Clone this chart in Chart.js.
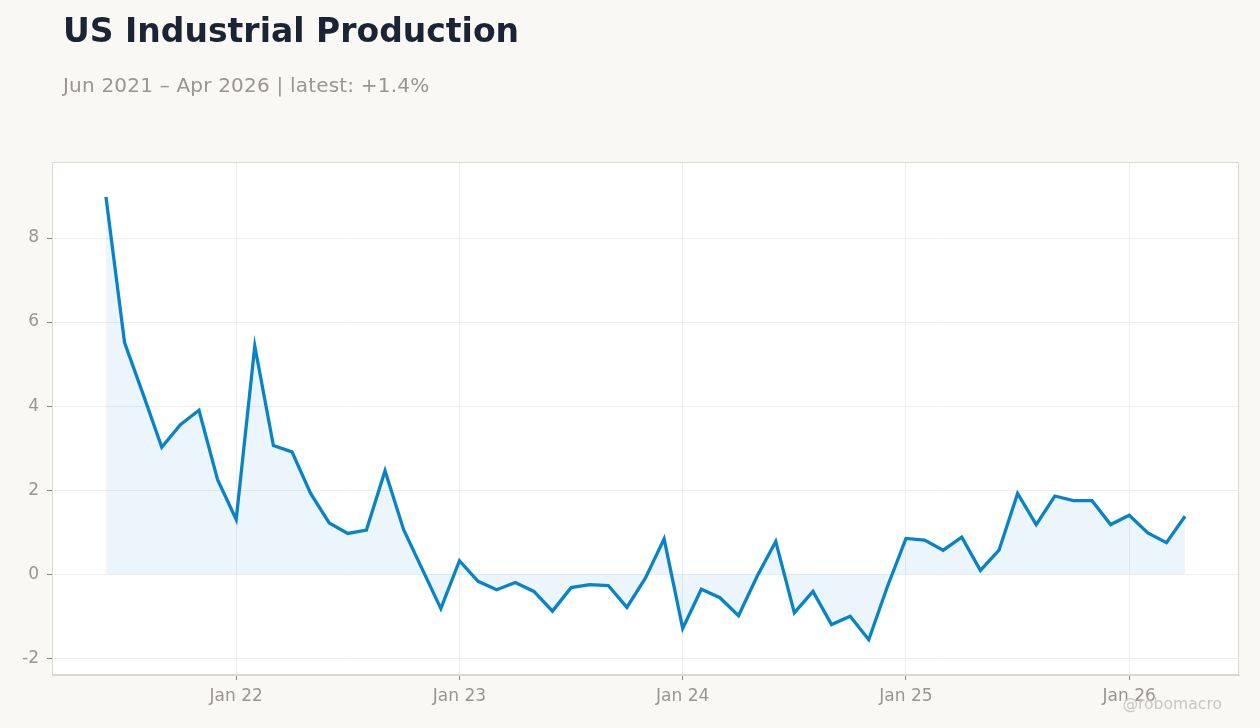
<!DOCTYPE html>
<html>
<head>
<meta charset="utf-8">
<script src="https://cdn.jsdelivr.net/npm/chart.js@4"></script>
<style>
  html, body { margin: 0; padding: 0; background: #f9f8f5; }
  body { width: 1260px; height: 728px; position: relative; overflow: hidden; font-family: "DejaVu Sans", sans-serif; }
  #title { position: absolute; left: 63px; top: 14px; font-size: 33px; line-height: 33px; font-weight: bold; color: #1b2434; white-space: nowrap; }
  #subtitle { position: absolute; left: 63px; top: 75px; font-size: 20px; line-height: 20px; letter-spacing: 0.2px; color: #9a9590; white-space: nowrap; }
  #credit { position: absolute; right: 38px; top: 697px; font-size: 15.6px; line-height: 15px; color: #cac6c0; white-space: nowrap; }
  #wrap { position: absolute; left: 0; top: 0; width: 1260px; height: 728px; }
</style>
</head>
<body>
<div id="wrap"><canvas id="chart"></canvas></div>
<div id="title">US Industrial Production</div>
<div id="subtitle">Jun 2021 – Apr 2026 | latest: +1.4%</div>
<div id="credit">@robomacro</div>
<script>
// monthly, Jun 2021 .. Apr 2026, year-over-year %
const months = [
  '2021-06','2021-07','2021-08','2021-09','2021-10','2021-11','2021-12',
  '2022-01','2022-02','2022-03','2022-04','2022-05','2022-06','2022-07','2022-08','2022-09','2022-10','2022-11','2022-12',
  '2023-01','2023-02','2023-03','2023-04','2023-05','2023-06','2023-07','2023-08','2023-09','2023-10','2023-11','2023-12',
  '2024-01','2024-02','2024-03','2024-04','2024-05','2024-06','2024-07','2024-08','2024-09','2024-10','2024-11','2024-12',
  '2025-01','2025-02','2025-03','2025-04','2025-05','2025-06','2025-07','2025-08','2025-09','2025-10','2025-11','2025-12',
  '2026-01','2026-02','2026-03','2026-04'
];
const values = [
  8.98, 5.51, 4.28, 3.02, 3.56, 3.90, 2.25,
  1.30, 5.43, 3.06, 2.91, 1.92, 1.22, 0.97, 1.05, 2.46, 1.06, 0.12, -0.82,
  0.32, -0.17, -0.37, -0.20, -0.41, -0.88, -0.32, -0.25, -0.27, -0.79, -0.09, 0.84,
  -1.29, -0.36, -0.56, -0.99, -0.05, 0.78, -0.92, -0.41, -1.20, -1.00, -1.56, -0.30,
  0.85, 0.81, 0.57, 0.88, 0.09, 0.57, 1.92, 1.18, 1.86, 1.75, 1.75, 1.18,
  1.40, 0.98, 0.75, 1.38
];
const yTicks = [-2, 0, 2, 4, 6, 8];
const xTickMonths = ['2022-01', '2023-01', '2024-01', '2025-01', '2026-01'];
const xTickLabels = ['Jan 22', 'Jan 23', 'Jan 24', 'Jan 25', 'Jan 26'];

const LINE = '#0884c6';
const GRID = '#eeeeee';
const TICK_TEXT = '#9a9590';

const points = values.map((v, i) => ({ x: i, y: v }));
const xTickIdx = xTickMonths.map(m => months.indexOf(m));
const pad = (months.length - 1) * 0.05;

// white plot area with a thin box round it
const plotBox = {
  id: 'plotBox',
  beforeDraw(chart) {
    const a = chart.chartArea, ctx = chart.ctx;
    ctx.save();
    ctx.fillStyle = '#ffffff';
    ctx.fillRect(a.left, a.top, a.right - a.left, a.bottom - a.top);
    ctx.restore();
  },
  afterDraw(chart) {
    const a = chart.chartArea, ctx = chart.ctx;
    ctx.save();
    ctx.strokeStyle = '#ddd8cf';
    ctx.lineWidth = 1;
    ctx.strokeRect(a.left + 0.5, a.top + 0.5, a.right - a.left - 1, a.bottom - a.top - 1);
    ctx.restore();
  }
};

new Chart(document.getElementById('chart'), {
  type: 'line',
  data: {
    datasets: [{
      data: points,
      borderColor: LINE,
      borderWidth: 3.3,
      backgroundColor: 'rgba(8,132,198,0.08)',
      fill: 'origin',
      pointRadius: 0,
      tension: 0
    }]
  },
  options: {
    responsive: true,
    maintainAspectRatio: false,
    animation: false,
    layout: { padding: { top: 162, right: 21, left: 0, bottom: 0 } },
    plugins: { legend: { display: false }, tooltip: { enabled: false } },
    scales: {
      x: {
        type: 'linear',
        min: -pad,
        max: months.length - 1 + pad,
        afterBuildTicks: s => { s.ticks = xTickIdx.map(v => ({ value: v })); },
        afterFit: s => { s.height = 53; },
        ticks: {
          callback: v => xTickLabels[xTickIdx.indexOf(v)],
          color: TICK_TEXT,
          font: { family: 'DejaVu Sans', size: 17 },
          padding: 6,
          maxRotation: 0
        },
        grid: { color: GRID, tickColor: '#888888', tickLength: 5 },
        border: { color: '#ddd8cf' }
      },
      y: {
        min: -2.4,
        max: 9.81,
        afterBuildTicks: s => { s.ticks = yTicks.map(v => ({ value: v })); },
        afterFit: s => { s.width = 52; },
        ticks: {
          color: TICK_TEXT,
          font: { family: 'DejaVu Sans', size: 17 },
          padding: 8
        },
        grid: { color: GRID, tickColor: '#888888', tickLength: 5 },
        border: { color: '#ddd8cf' }
      }
    }
  },
  plugins: [plotBox]
});
</script>
</body>
</html>
